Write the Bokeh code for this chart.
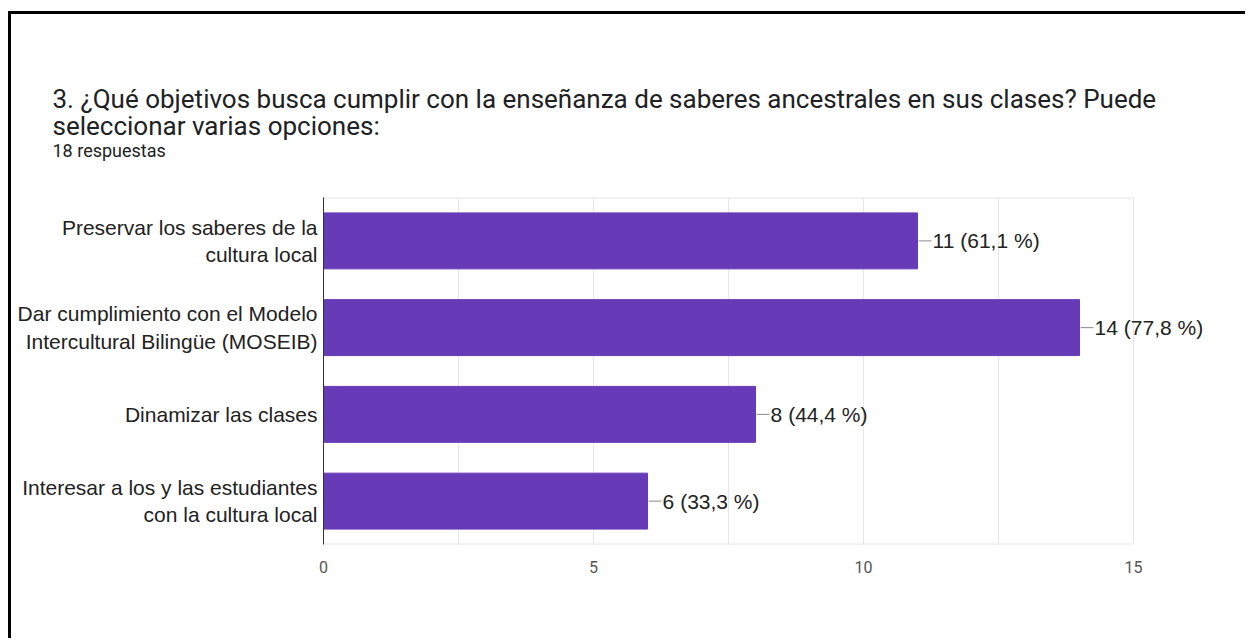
from bokeh.plotting import figure
from bokeh.models import FactorRange, FixedTicker, Title, ColumnDataSource, Range1d
from bokeh.embed import file_html
from bokeh.resources import INLINE

title_line1 = "3.  ¿Qué objetivos busca cumplir con la enseñanza de saberes ancestrales en sus clases? Puede"
title_line2 = "seleccionar varias opciones:"
subtitle = "18 respuestas"

categories = [
    "Preservar los saberes de la\ncultura local",
    "Dar cumplimiento con el Modelo\nIntercultural Bilingüe (MOSEIB)",
    "Dinamizar las clases",
    "Interesar a los y las estudiantes\ncon la cultura local",
]
counts = [11, 14, 8, 6]
labels = ["11 (61,1 %)", "14 (77,8 %)", "8 (44,4 %)", "6 (33,3 %)"]
axis_ticks = [0, 5, 10, 15]
grid_ticks = [0, 2.5, 5, 7.5, 10, 12.5, 15]

BAR = "#673ab7"
ARIAL = "Liberation Sans"
TXT = "#202124"
GRID = "#e6e6e6"

ncat = len(categories)
src = ColumnDataSource(dict(
    cat=categories,
    n=counts,
    lab=labels,
    lx0=[c + 0.02 for c in counts],
    lx1=[c + 0.26 for c in counts],
    tx=[c + 0.28 for c in counts],
))

# x range runs a little past the last tick so the value labels are not clipped;
# the visible chart box is closed at the last grid tick.
p = figure(
    width=1237, height=627,
    y_range=FactorRange(factors=list(reversed(categories))),
    x_range=Range1d(0, 17),
    output_backend="svg", toolbar_location=None,
    min_border_left=312, min_border_right=7, min_border_bottom=97, min_border_top=0,
)
p.styles = {"border-left": "3px solid black", "border-top": "3px solid black",
            "margin-left": "8px", "margin-top": "11px"}

# light box edges (top & bottom) of the chart area, from first to last grid tick
p.segment(x0=[grid_ticks[0]] * 2, x1=[grid_ticks[-1]] * 2, y0=[0, ncat], y1=[0, ncat],
          line_color=GRID, line_width=2)

p.hbar(y="cat", left=0, right="n", height=0.645, source=src, color=BAR)
p.segment(x0="lx0", x1="lx1", y0="cat", y1="cat", source=src, line_color="#8a8a8a", line_width=1)
p.text(x="tx", y="cat", text="lab", source=src, text_baseline="middle", text_align="left",
       text_font={"value": ARIAL}, text_font_size="21px", text_color="#222222")

p.xaxis.ticker = FixedTicker(ticks=axis_ticks)
p.xgrid.ticker = FixedTicker(ticks=grid_ticks)
p.xgrid.grid_line_color = GRID
p.ygrid.grid_line_color = None
p.xaxis.axis_line_color = None
p.xaxis.major_tick_line_color = None
p.xaxis.minor_tick_line_color = None
p.xaxis.major_label_text_font = "Roboto"
p.xaxis.major_label_text_font_size = "16px"
p.xaxis.major_label_text_color = "#555555"
p.xaxis.major_label_standoff = 10

p.yaxis.axis_line_color = "#333333"
p.yaxis.major_tick_line_color = None
p.yaxis.minor_tick_line_color = None
p.yaxis.major_label_text_font = ARIAL
p.yaxis.major_label_text_font_size = "21px"
p.yaxis.major_label_text_color = "#222222"
p.yaxis.major_label_standoff = 0

p.outline_line_color = None

def ttl(text, size, standoff=0, offset=-271):
    return Title(text=text, align="left", offset=offset, text_font="Roboto",
                 text_font_size=size, text_font_style="normal", text_color=TXT, standoff=standoff)

p.add_layout(Title(text=" ", text_font_size="31.2px", standoff=0), "above")
p.add_layout(ttl(subtitle, "18px"), "above")
p.add_layout(ttl(title_line2, "26px", standoff=-7), "above")
p.add_layout(ttl(title_line1, "26px", standoff=-3), "above")
p.add_layout(Title(text=" ", text_font_size="59.7px", standoff=0), "above")

open("out.html", "w").write(file_html(p, INLINE))
